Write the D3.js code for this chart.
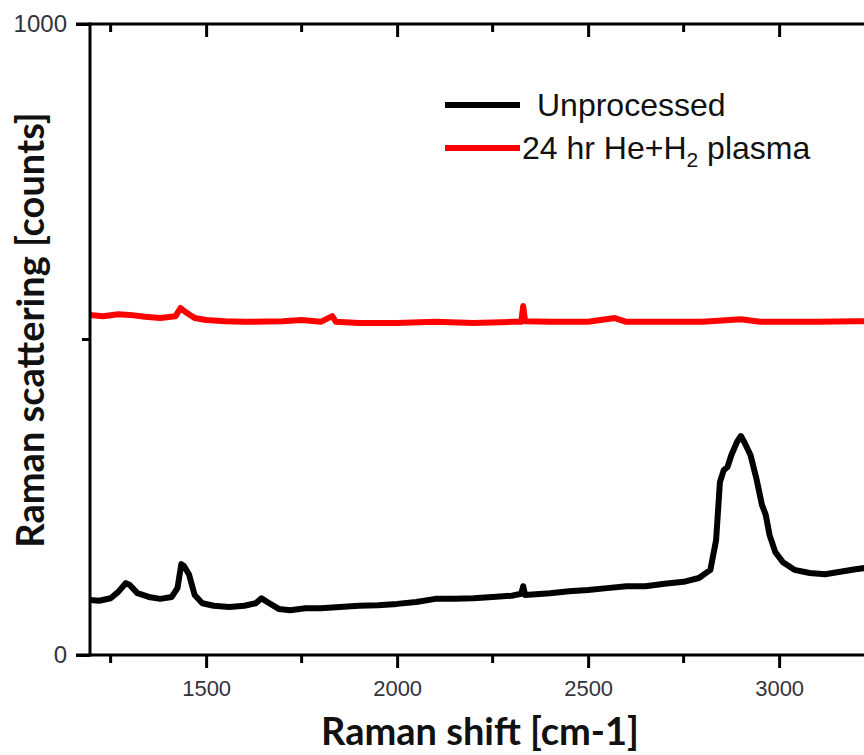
<!DOCTYPE html>
<html><head><meta charset="utf-8">
<script src="https://cdn.jsdelivr.net/npm/d3@7"></script>
<style>html,body{margin:0;padding:0;background:#fff;}svg{display:block;}</style>
</head><body>
<svg id="chart" width="864" height="755"></svg>
<script>
// Raman shift (cm-1) and counts
const unprocShift = [1196,1220,1250,1270,1290,1300,1320,1350,1380,1410,1425,1435,1442,1455,1470,1490,1520,1560,1600,1630,1645,1660,1690,1720,1760,1800,1850,1900,1950,2000,2050,2100,2150,2200,2250,2300,2325,2330,2335,2400,2450,2500,2550,2600,2650,2700,2750,2790,2820,2835,2845,2855,2865,2875,2890,2900,2910,2925,2940,2955,2965,2975,2990,3010,3040,3080,3120,3160,3200,3240,3300];
const unprocCounts = [87,86,90,100,114,111,98,92,89,92,106,144,141,128,95,82,78,76,78,82,90,84,73,71,74,74,76,78,79,81,84,89,89,90,92,94,97,109,95,98,101,103,106,109,109,113,116,122,135,182,274,293,298,317,338,347,336,317,281,238,222,190,163,147,135,130,128,132,136,139,141];

const plasmaShift = [1196,1230,1270,1300,1340,1380,1420,1433,1445,1470,1500,1550,1600,1700,1750,1800,1830,1840,1900,2000,2100,2200,2300,2325,2330,2335,2400,2500,2570,2600,2700,2800,2900,2950,3000,3100,3200,3300];
const plasmaCounts = [539,537,540,539,536,534,537,550,544,534,531,529,528,529,531,528,537,528,526,526,528,526,528,528,553,529,528,528,534,528,528,528,532,528,528,528,529,529];

const xMajorTicks = [1500,2000,2500,3000];
const xMinorTicks = [1250,1750,2250,2750,3250];
const yTickLabels = [0,1000];
const yMinorTicks = [500];

const seriesNames = ["Unprocessed","24 hr He+H\u2082 plasma"];
const seriesColors = ["#000000","#ff0000"];

const svg = d3.select("#chart");
const x = d3.scaleLinear().domain([1196, 3500]).range([90, 90 + 0.382*(3500-1196)]);
const y = d3.scaleLinear().domain([0, 1000]).range([655, 24]);

const defs = svg.append("defs");
defs.append("clipPath").attr("id","plotclip").append("rect")
  .attr("x",90).attr("y",0).attr("width",800).attr("height",655);

const line = d3.line().x(d=>x(d[0])).y(d=>y(d[1]));
const plasma = plasmaShift.map((s,i)=>[s,plasmaCounts[i]]);
const unproc = unprocShift.map((s,i)=>[s,unprocCounts[i]]);

const g = svg.append("g").attr("clip-path","url(#plotclip)");
g.append("path").datum(plasma).attr("d",line).attr("fill","none")
  .attr("stroke",seriesColors[1]).attr("stroke-width",6).attr("stroke-linejoin","round");
g.append("path").datum(unproc).attr("d",line).attr("fill","none")
  .attr("stroke",seriesColors[0]).attr("stroke-width",6).attr("stroke-linejoin","round");

// axes
const axCol = "#000";
// bottom axis
const xb = d3.axisBottom(x).tickValues(xMajorTicks).tickSize(13).tickFormat(d3.format("d"));
const gb = svg.append("g").attr("transform","translate(0,655)").call(xb);
gb.select(".domain").remove();
gb.selectAll(".tick line").attr("stroke",axCol).attr("stroke-width",3);
gb.selectAll(".tick text").attr("font-family","'Liberation Sans',Arial,sans-serif")
  .attr("font-size",22).attr("fill","#33333d").attr("dy","1.15em");
gb.append("g").selectAll("line").data(xMinorTicks).join("line")
  .attr("x1",d=>x(d)).attr("x2",d=>x(d)).attr("y1",0).attr("y2",8)
  .attr("stroke",axCol).attr("stroke-width",3);
gb.append("line").attr("x1",76).attr("x2",864).attr("y1",0).attr("y2",0)
  .attr("stroke",axCol).attr("stroke-width",3);

// top frame
const xt = d3.axisTop(x).tickValues(xMajorTicks).tickSize(-13).tickFormat("");
const gt = svg.append("g").attr("transform","translate(0,24)").call(xt);
gt.select(".domain").remove();
gt.selectAll(".tick line").attr("stroke",axCol).attr("stroke-width",3);
gt.append("g").selectAll("line").data(xMinorTicks).join("line")
  .attr("x1",d=>x(d)).attr("x2",d=>x(d)).attr("y1",0).attr("y2",8)
  .attr("stroke",axCol).attr("stroke-width",3);
gt.append("line").attr("x1",76).attr("x2",864).attr("y1",0).attr("y2",0)
  .attr("stroke",axCol).attr("stroke-width",3);

// left axis
const yl = d3.axisLeft(y).tickValues(yTickLabels).tickSize(14).tickFormat(d3.format("d"));
const gl = svg.append("g").attr("transform","translate(90,0)").call(yl);
gl.select(".domain").remove();
gl.selectAll(".tick line").attr("stroke",axCol).attr("stroke-width",3);
gl.selectAll(".tick text").attr("font-family","'Liberation Sans',Arial,sans-serif")
  .attr("font-size",24).attr("fill","#33333d").attr("x",-23);
gl.append("g").selectAll("line").data(yMinorTicks).join("line")
  .attr("x1",-8).attr("x2",0).attr("y1",d=>y(d)).attr("y2",d=>y(d))
  .attr("stroke",axCol).attr("stroke-width",3);
gl.append("line").attr("x1",0).attr("x2",0).attr("y1",y(1000)-1.5).attr("y2",y(0)+1.5)
  .attr("stroke",axCol).attr("stroke-width",3);

// titles
svg.append("text").attr("x",480).attr("y",745).attr("text-anchor","middle")
  .attr("font-family","Lato,'Open Sans',sans-serif").attr("font-weight","bold")
  .attr("font-size",38).attr("fill","#111").text("Raman shift [cm-1]");
svg.append("text").attr("transform","translate(44,330) rotate(-90)").attr("text-anchor","middle")
  .attr("font-family","Lato,'Open Sans',sans-serif").attr("font-weight","bold")
  .attr("font-size",38).attr("fill","#111").text("Raman scattering [counts]");

// legend
const leg = svg.append("g");
leg.append("line").attr("x1",445).attr("x2",520).attr("y1",105).attr("y2",105)
  .attr("stroke",seriesColors[0]).attr("stroke-width",6);
leg.append("line").attr("x1",445).attr("x2",520).attr("y1",148).attr("y2",148)
  .attr("stroke",seriesColors[1]).attr("stroke-width",6);
leg.append("text").attr("x",537).attr("y",116).attr("font-family","'Liberation Sans',Arial,sans-serif")
  .attr("font-size",32).attr("fill","#111").text(seriesNames[0]);
const t2 = leg.append("text").attr("x",522).attr("y",159).attr("font-family","'Liberation Sans',Arial,sans-serif")
  .attr("font-size",32).attr("fill","#111");
t2.append("tspan").text("24 hr He+H");
t2.append("tspan").attr("font-size",21).attr("dy",8).text("2");
t2.append("tspan").attr("dy",-8).text(" plasma");
</script>
</body></html>
